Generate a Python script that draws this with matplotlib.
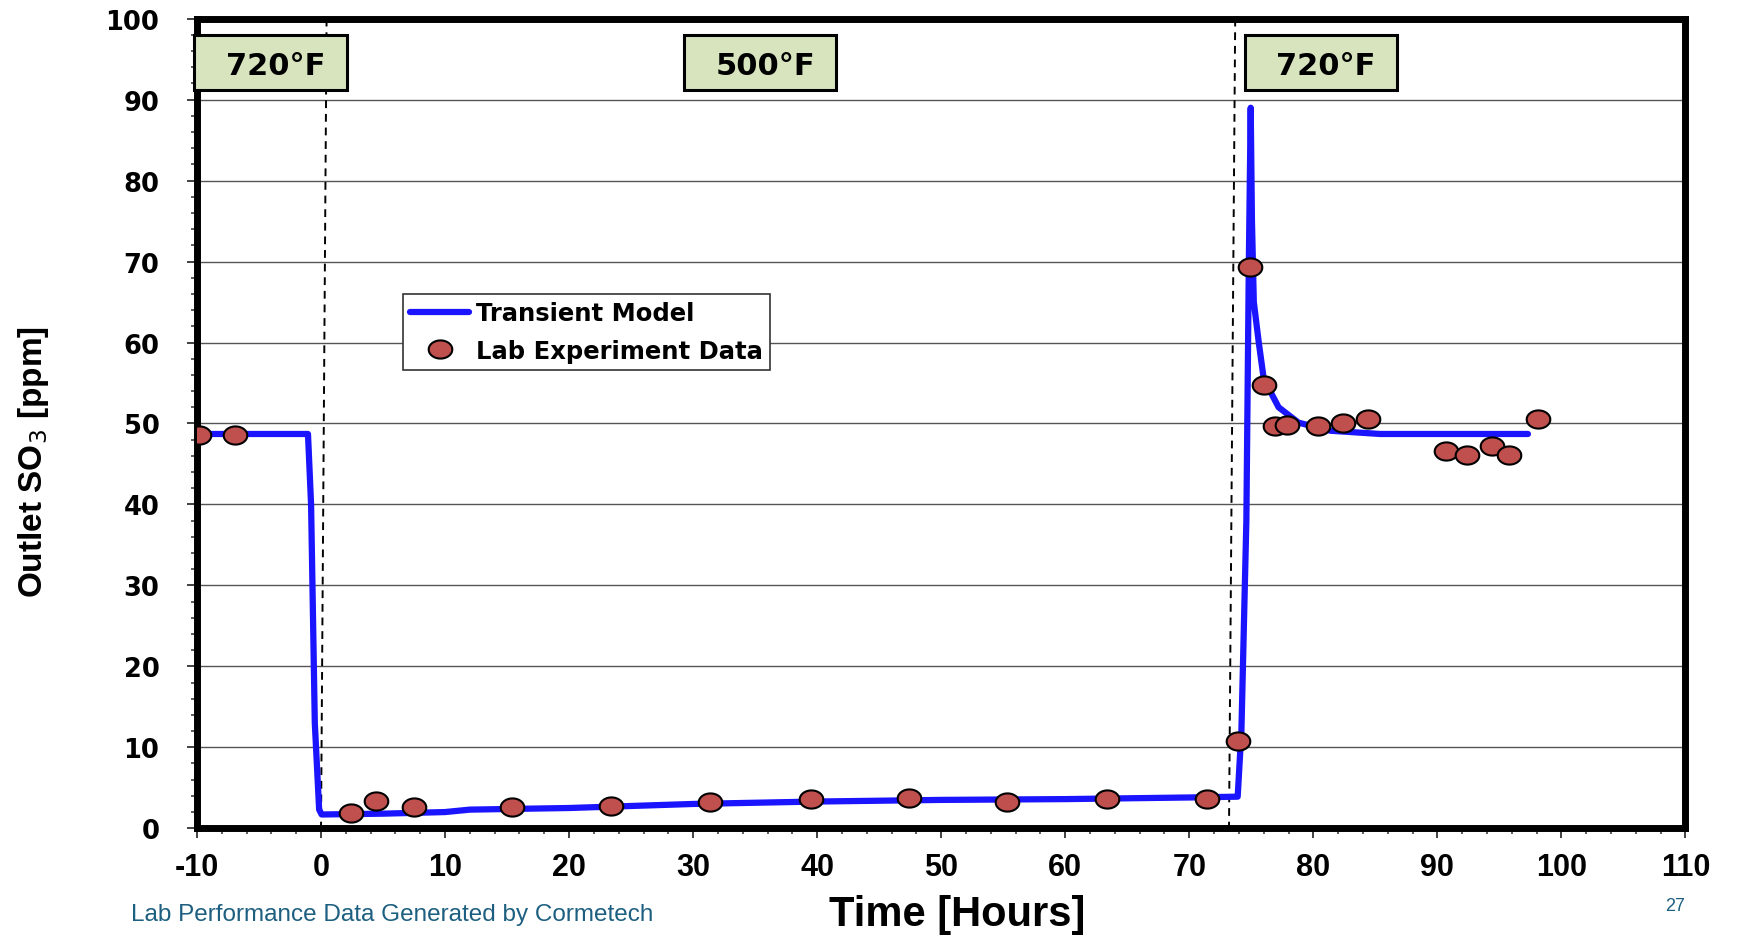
import numpy as np
import matplotlib.pyplot as plt
from matplotlib.path import Path
from matplotlib.patches import Rectangle
from matplotlib.ticker import MultipleLocator

plt.rcParams["axes.unicode_minus"] = False

# transient model curve
t_model = [-10, -1.05, -0.8, -0.5, -0.15, 0.05, 5, 10, 12, 20, 30, 40, 50, 60,
           70, 73.9, 74.2, 74.6, 74.8, 74.95, 75.05, 75.2, 75.6, 76.0, 77.2,
           78.8, 81.4, 85.4, 97.3]
so3_model = [48.7, 48.7, 40, 13, 2.3, 1.7, 1.8, 2.0, 2.3, 2.5, 3.0, 3.3, 3.5, 3.6,
             3.8, 3.9, 12, 38, 70, 89, 75, 65, 60, 55.5, 52, 50.1, 49.1, 48.7, 48.7]

# lab experiment points
t_lab = [-9.8, -6.95, 2.45, 4.4, 7.5, 15.4, 23.4, 31.4, 39.5, 47.4, 55.3, 63.4,
         71.4, 73.9, 74.9, 76.0, 76.9, 77.9, 80.4, 82.4, 84.4, 90.7, 92.4, 94.4,
         95.8, 98.1]
so3_lab = [48.6, 48.6, 1.9, 3.4, 2.6, 2.6, 2.7, 3.2, 3.6, 3.7, 3.2, 3.6,
           3.6, 10.8, 69.3, 54.7, 49.7, 49.8, 49.7, 50.1, 50.6, 46.6, 46.1, 47.2,
           46.1, 50.6]

# temperature steps
step_labels = ["720°F", "500°F", "720°F"]
step_centers = [-4.05, 35.4, 80.6]
switch_top = [0.45, 73.7]
switch_bottom = [0.0, 73.2]

bold_num = ["DejaVu Sans"]
arial = ["Liberation Sans", "DejaVu Sans"]

fig = plt.figure(figsize=(17.43, 9.37), dpi=100)
ax = fig.add_axes([0.113, 0.115, 0.854, 0.864])

# slightly wide ellipse marker, like the original
th = np.linspace(0, 2 * np.pi, 60)
ell = Path(np.column_stack([1.3 * np.cos(th), np.sin(th)]))

ax.plot(t_model, so3_model, color="#1a14ff", lw=4.5, solid_capstyle="round",
        solid_joinstyle="round", zorder=3, label="Transient Model")
ax.plot(t_lab, so3_lab, ls="none", marker=ell, ms=17, mfc="#c0504d",
        mec="black", mew=1.5, zorder=4, label="Lab Experiment Data")

for xt, xb in zip(switch_top, switch_bottom):
    ax.plot([xt, xb], [100, 0], color="black", ls=(0, (4, 3)), lw=1.4, zorder=2)

for lab, xc in zip(step_labels, step_centers):
    ax.add_patch(Rectangle((xc - 6.15, 91.2), 12.3, 6.8, facecolor="#d7e4bd",
                           edgecolor="black", lw=2.2, zorder=5, clip_on=False))
    ax.text(xc + 0.4, 94.2, lab, ha="center", va="center", fontsize=22,
            fontweight="bold", family=bold_num, zorder=6)

ax.set_xlim(-10, 110)
ax.set_ylim(0, 100)
ax.xaxis.set_major_locator(MultipleLocator(10))
ax.xaxis.set_minor_locator(MultipleLocator(2))
ax.yaxis.set_major_locator(MultipleLocator(10))
ax.yaxis.set_minor_locator(MultipleLocator(2))
ax.grid(axis="y", which="major", color="#555555", lw=1.0)
ax.set_axisbelow(True)

for s in ax.spines.values():
    s.set_linewidth(5)
ax.tick_params(which="major", direction="out", length=7, width=1.3, color="#333333")
ax.tick_params(which="minor", direction="out", length=4, width=1.1, color="#333333")
ax.tick_params(axis="y", which="major", pad=20)
ax.tick_params(axis="x", which="major", pad=10)

for t in ax.get_yticklabels():
    t.set_family(bold_num)
    t.set_fontweight("bold")
    t.set_fontsize(18.5)
for t in ax.get_xticklabels():
    t.set_family(arial)
    t.set_fontweight("bold")
    t.set_fontsize(22)

leg = ax.legend(loc="upper left", bbox_to_anchor=(0.1385, 0.66), frameon=True,
                fancybox=False, edgecolor="#333333", framealpha=1,
                prop={"family": bold_num, "weight": "bold", "size": 17.5},
                handlelength=2.4, handletextpad=0.3, borderpad=0.3,
                labelspacing=0.55, borderaxespad=0)
leg.get_frame().set_linewidth(1.2)

fig.text(0.549, 0.023, "Time [Hours]", ha="center", va="center", fontsize=30,
         fontweight="bold", family=arial)
fig.text(0.019, 0.507, "Outlet SO$_3$ [ppm]", ha="center", va="center",
         rotation=90, fontsize=24, fontweight="bold", family=arial)
fig.text(0.075, 0.023, "Lab Performance Data Generated by Cormetech", ha="left",
         va="center", fontsize=17.5, color="#1d5f80", family=arial)
fig.text(0.961, 0.033, "27", ha="center", va="center", fontsize=13,
         color="#1d5f80", family=arial)

fig.savefig("out.png", dpi=100)
